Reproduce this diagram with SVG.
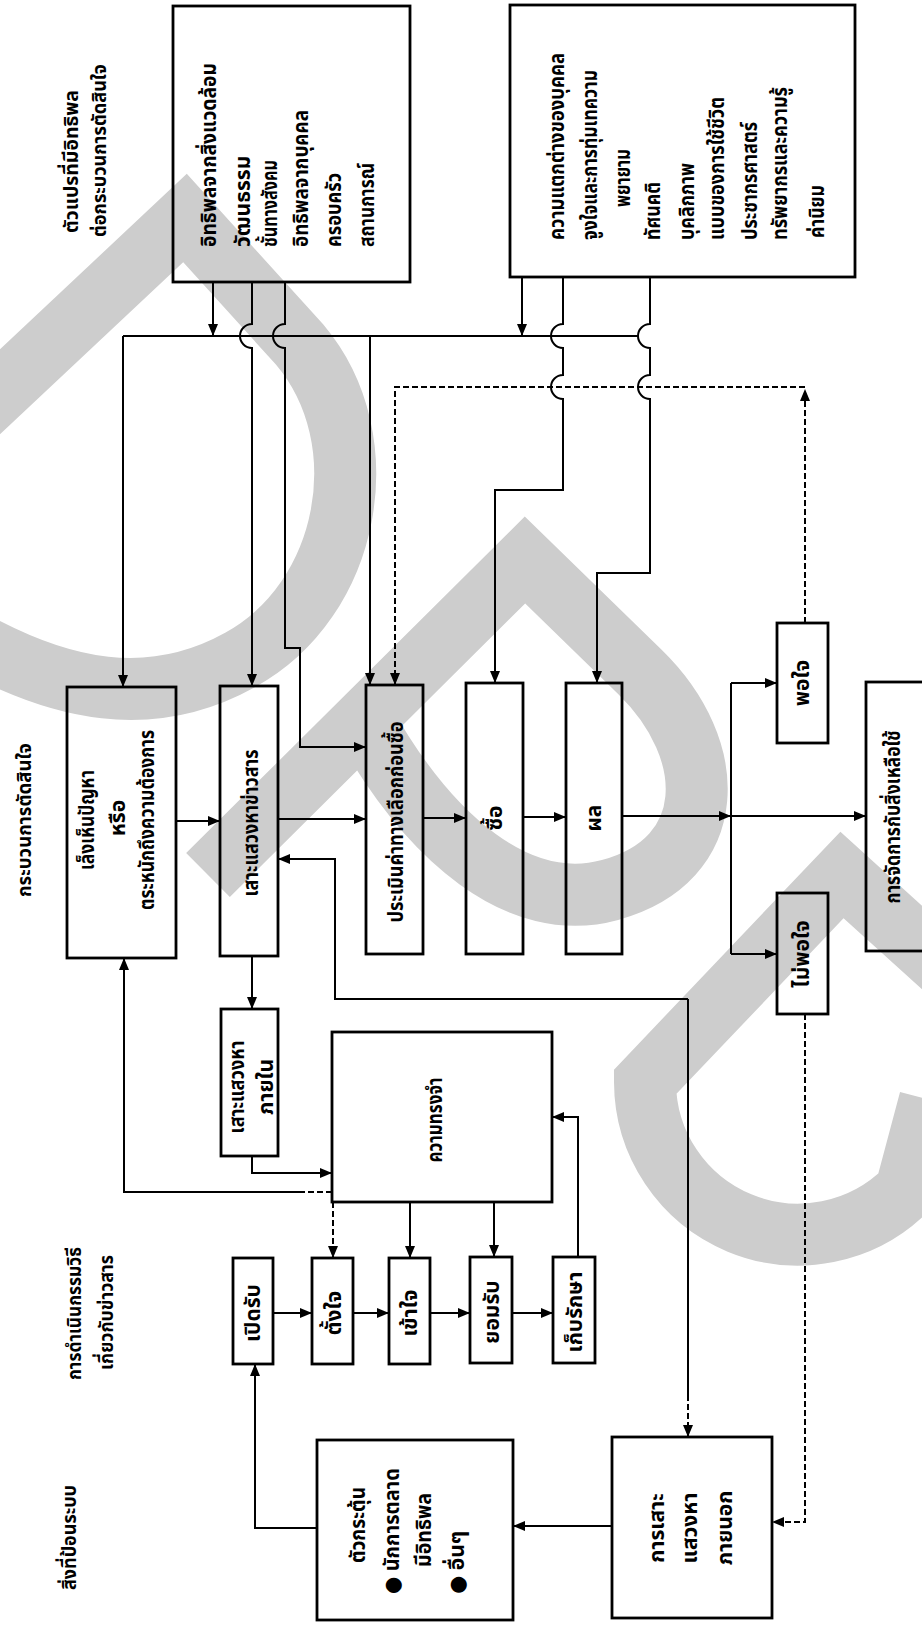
<svg xmlns="http://www.w3.org/2000/svg" width="922" height="1628" viewBox="0 0 922 1628">
<style>
.wm{fill:none;stroke:#cdcdcd;stroke-width:62}
.box{fill:none;stroke:#000;stroke-width:2.8}
.ln{fill:none;stroke:#000;stroke-width:2}
.ds{fill:none;stroke:#000;stroke-width:2;stroke-dasharray:6 3}
.t{font-family:'Noto Sans Thai','Noto Sans','DejaVu Sans',sans-serif;font-weight:bold;font-size:21px;fill:#000;dominant-baseline:central}
.h{font-size:19px}
.m{text-anchor:middle}
</style>
<defs>
<marker id="ah" markerWidth="12" markerHeight="10" refX="11" refY="5" orient="auto" markerUnits="userSpaceOnUse"><path d="M0,0 L12,5 L0,10 Z" fill="#000"/></marker>
</defs>
<rect width="922" height="1628" fill="#fff"/>
<g id="watermark">
<path class="wm" d="M -30,420 L 185,218 L 300,345 C 380,440 350,600 240,660 C 150,710 60,690 -30,640"/>
<path class="wm" d="M 208,875 L 525,560 L 640,672 C 720,750 720,860 610,890 C 520,915 430,840 363,720"/>
<path class="wm" d="M 980,1000 L 842,875 L 645,1082 A 153 153 0 0 0 906,1190 L 930,1100"/>
</g>
<g id="headers">
<text class="t h" transform="translate(72,233) rotate(-90)" textLength="143" lengthAdjust="spacingAndGlyphs">ตัวแปรที่มีอิทธิพล</text>
<text class="t h" transform="translate(100,237) rotate(-90)" textLength="173" lengthAdjust="spacingAndGlyphs">ต่อกระบวนการตัดสินใจ</text>
<text class="t h" transform="translate(25,897) rotate(-90)" textLength="154" lengthAdjust="spacingAndGlyphs">กระบวนการตัดสินใจ</text>
<text class="t h" transform="translate(75,1380) rotate(-90)" textLength="133" lengthAdjust="spacingAndGlyphs">การดำเนินกรรมวิธี</text>
<text class="t h" transform="translate(107,1370) rotate(-90)" textLength="115" lengthAdjust="spacingAndGlyphs">เกี่ยวกับข่าวสาร</text>
<text class="t h" transform="translate(70,1590) rotate(-90)" textLength="105" lengthAdjust="spacingAndGlyphs">สิ่งที่ป้อนระบบ</text>
</g>
<g id="environment">
<rect class="box" x="173" y="6" width="237" height="276"/>
<text class="t" transform="translate(209,247) rotate(-90)" textLength="184" lengthAdjust="spacingAndGlyphs">อิทธิพลจากสิ่งแวดล้อม</text>
<text class="t" transform="translate(243,247) rotate(-90)">วัฒนธรรม</text>
<text class="t" transform="translate(270,247) rotate(-90)" textLength="87" lengthAdjust="spacingAndGlyphs">ชั้นทางสังคม</text>
<text class="t" transform="translate(301,247) rotate(-90)" textLength="137" lengthAdjust="spacingAndGlyphs">อิทธิพลจากบุคคล</text>
<text class="t" transform="translate(334,247) rotate(-90)" textLength="74" lengthAdjust="spacingAndGlyphs">ครอบครัว</text>
<text class="t" transform="translate(367,247) rotate(-90)" textLength="84" lengthAdjust="spacingAndGlyphs">สถานการณ์</text>
</g>
<g id="individual">
<rect class="box" x="510" y="5" width="345" height="272"/>
<text class="t" transform="translate(557,240) rotate(-90)" textLength="187" lengthAdjust="spacingAndGlyphs">ความแตกต่างของบุคคล</text>
<text class="t" transform="translate(590,240) rotate(-90)" textLength="170" lengthAdjust="spacingAndGlyphs">จูงใจและการทุ่มเทความ</text>
<text class="t" transform="translate(623,207) rotate(-90)" textLength="58" lengthAdjust="spacingAndGlyphs">พยายาม</text>
<text class="t" transform="translate(653,240) rotate(-90)" textLength="58" lengthAdjust="spacingAndGlyphs">ทัศนคติ</text>
<text class="t" transform="translate(687,240) rotate(-90)" textLength="77" lengthAdjust="spacingAndGlyphs">บุคลิกภาพ</text>
<text class="t" transform="translate(717,240) rotate(-90)" textLength="143" lengthAdjust="spacingAndGlyphs">แบบของการใช้ชีวิต</text>
<text class="t" transform="translate(750,240) rotate(-90)" textLength="118" lengthAdjust="spacingAndGlyphs">ประชากรศาสตร์</text>
<text class="t" transform="translate(780,240) rotate(-90)" textLength="153" lengthAdjust="spacingAndGlyphs">ทรัพยากรและความรู้</text>
<text class="t" transform="translate(817,238) rotate(-90)" textLength="53" lengthAdjust="spacingAndGlyphs">ค่านิยม</text>
</g>
<g id="problem">
<rect class="box" x="67" y="687" width="109" height="271"/>
<text class="t m" transform="translate(87,820) rotate(-90)" textLength="100" lengthAdjust="spacingAndGlyphs">เล็งเห็นปัญหา</text>
<text class="t m" transform="translate(118,818) rotate(-90)">หรือ</text>
<text class="t m" transform="translate(147,820) rotate(-90)" textLength="180" lengthAdjust="spacingAndGlyphs">ตระหนักถึงความต้องการ</text>
</g>
<g id="search">
<rect class="box" x="220" y="686" width="58" height="270"/>
<text class="t m" transform="translate(251,823) rotate(-90)" textLength="147" lengthAdjust="spacingAndGlyphs">เสาะแสวงหาข่าวสาร</text>
</g>
<g id="evaluation">
<rect class="box" x="366" y="685" width="57" height="269"/>
<text class="t m" transform="translate(396,822) rotate(-90)" textLength="201" lengthAdjust="spacingAndGlyphs">ประเมินค่าทางเลือกก่อนซื้อ</text>
</g>
<g id="purchase">
<rect class="box" x="466" y="683" width="57" height="271"/>
<text class="t m" transform="translate(495,818) rotate(-90)">ซื้อ</text>
</g>
<g id="outcome">
<rect class="box" x="566" y="683" width="56" height="271"/>
<text class="t m" transform="translate(594,818) rotate(-90)">ผล</text>
</g>
<g id="satisfied">
<rect class="box" x="777" y="623" width="51" height="120"/>
<text class="t m" transform="translate(802,683) rotate(-90)">พอใจ</text>
</g>
<g id="dissatisfied">
<rect class="box" x="777" y="893" width="51" height="121"/>
<text class="t m" transform="translate(802,954) rotate(-90)">ไม่พอใจ</text>
</g>
<g id="divestment">
<rect class="box" x="866" y="682" width="80" height="269"/>
<text class="t m" transform="translate(893,817) rotate(-90)" textLength="173" lengthAdjust="spacingAndGlyphs">การจัดการกับสิ่งเหลือใช้</text>
</g>
<g id="internal">
<rect class="box" x="221" y="1009" width="57" height="147"/>
<text class="t m" transform="translate(237,1087) rotate(-90)" textLength="93" lengthAdjust="spacingAndGlyphs">เสาะแสวงหา</text>
<text class="t m" transform="translate(266,1087) rotate(-90)">ภายใน</text>
</g>
<g id="memory">
<rect class="box" x="332" y="1032" width="220" height="170"/>
<text class="t m" transform="translate(435,1120) rotate(-90)" textLength="85" lengthAdjust="spacingAndGlyphs">ความทรงจำ</text>
</g>
<g id="exposure">
<rect class="box" x="233" y="1258" width="40" height="106"/>
<text class="t m" transform="translate(253,1313) rotate(-90)">เปิดรับ</text>
</g>
<g id="attention">
<rect class="box" x="312" y="1258" width="41" height="106"/>
<text class="t m" transform="translate(334,1313) rotate(-90)">ตั้งใจ</text>
</g>
<g id="comprehension">
<rect class="box" x="389" y="1258" width="41" height="106"/>
<text class="t m" transform="translate(410,1313) rotate(-90)">เข้าใจ</text>
</g>
<g id="acceptance">
<rect class="box" x="470" y="1257" width="42" height="106"/>
<text class="t m" transform="translate(492,1312) rotate(-90)">ยอมรับ</text>
</g>
<g id="retention">
<rect class="box" x="553" y="1257" width="42" height="106"/>
<text class="t m" transform="translate(575,1312) rotate(-90)">เก็บรักษา</text>
</g>
<g id="stimuli">
<rect class="box" x="317" y="1440" width="196" height="180"/>
<text class="t" transform="translate(358,1563) rotate(-90)" textLength="76" lengthAdjust="spacingAndGlyphs">ตัวกระตุ้น</text>
<text class="t" transform="translate(392,1594) rotate(-90)" textLength="126" lengthAdjust="spacingAndGlyphs">● นักการตลาด</text>
<text class="t" transform="translate(424,1567) rotate(-90)" textLength="74" lengthAdjust="spacingAndGlyphs">มีอิทธิพล</text>
<text class="t" transform="translate(457,1594) rotate(-90)">● อื่นๆ</text>
</g>
<g id="external">
<rect class="box" x="612" y="1437" width="160" height="181"/>
<text class="t m" transform="translate(657,1528) rotate(-90)">การเสาะ</text>
<text class="t m" transform="translate(690,1528) rotate(-90)">แสวงหา</text>
<text class="t m" transform="translate(725,1528) rotate(-90)">ภายนอก</text>
</g>
<g id="connectors">
<path class="ln" d="M123,336 L638,336"/>
<path class="ln" d="M213,282 L213,335" marker-end="url(#ah)"/>
<path class="ln" d="M522,277 L522,335" marker-end="url(#ah)"/>
<path class="ln" d="M123,336 L123,686" marker-end="url(#ah)"/>
<path class="ln" d="M370,336 L370,684" marker-end="url(#ah)"/>
<path class="ln" d="M252,282 L252,324 A12,12 0 0 0 252,348 L252,685" marker-end="url(#ah)"/>
<path class="ln" d="M285,282 L285,324 A12,12 0 0 0 285,348 L285,648 L300,648 L300,747 L365,747" marker-end="url(#ah)"/>
<path class="ln" d="M563,277 L563,324 A12,12 0 0 0 563,348 L563,375 A12,12 0 0 0 563,399 L563,490 L495,490 L495,682" marker-end="url(#ah)"/>
<path class="ln" d="M650,277 L650,324 A12,12 0 0 0 650,348 L650,375 A12,12 0 0 0 650,399 L650,573 L597,573 L597,682" marker-end="url(#ah)"/>
<path class="ds" d="M805,623 L805,390" marker-end="url(#ah)"/>
<path class="ds" d="M805,387 L395,387 L395,684" marker-end="url(#ah)"/>
<path class="ln" d="M176,821 L219,821" marker-end="url(#ah)"/>
<path class="ln" d="M278,819 L365,819" marker-end="url(#ah)"/>
<path class="ln" d="M423,818 L465,818" marker-end="url(#ah)"/>
<path class="ln" d="M523,817 L565,817" marker-end="url(#ah)"/>
<path class="ln" d="M622,816 L730,816" marker-end="url(#ah)"/>
<path class="ln" d="M731,816 L865,816" marker-end="url(#ah)"/>
<path class="ln" d="M731,683 L731,954"/>
<path class="ln" d="M731,683 L776,683" marker-end="url(#ah)"/>
<path class="ln" d="M731,954 L776,954" marker-end="url(#ah)"/>
<path class="ds" d="M805,1014 L805,1522 L773,1522" marker-end="url(#ah)"/>
<path class="ln" d="M688,999 L335,999 L335,859 L279,859" marker-end="url(#ah)"/>
<path class="ln" d="M688,999 L688,1395"/>
<path class="ds" d="M688,1395 L688,1436" marker-end="url(#ah)"/>
<path class="ln" d="M252,956 L252,1008" marker-end="url(#ah)"/>
<path class="ln" d="M252,1156 L252,1173 L331,1173" marker-end="url(#ah)"/>
<path class="ln" d="M300,1192 L124,1192 L124,959" marker-end="url(#ah)"/>
<path class="ds" d="M332,1192 L300,1192"/>
<path class="ds" d="M333,1202 L333,1257" marker-end="url(#ah)"/>
<path class="ln" d="M410,1202 L410,1257" marker-end="url(#ah)"/>
<path class="ln" d="M494,1202 L494,1256" marker-end="url(#ah)"/>
<path class="ln" d="M578,1257 L578,1117 L553,1117" marker-end="url(#ah)"/>
<path class="ln" d="M273,1313 L311,1313" marker-end="url(#ah)"/>
<path class="ln" d="M353,1313 L388,1313" marker-end="url(#ah)"/>
<path class="ln" d="M430,1313 L469,1313" marker-end="url(#ah)"/>
<path class="ln" d="M512,1313 L552,1313" marker-end="url(#ah)"/>
<path class="ln" d="M317,1528 L255,1528 L255,1365" marker-end="url(#ah)"/>
<path class="ln" d="M612,1526 L514,1526" marker-end="url(#ah)"/>
</g>
</svg>
